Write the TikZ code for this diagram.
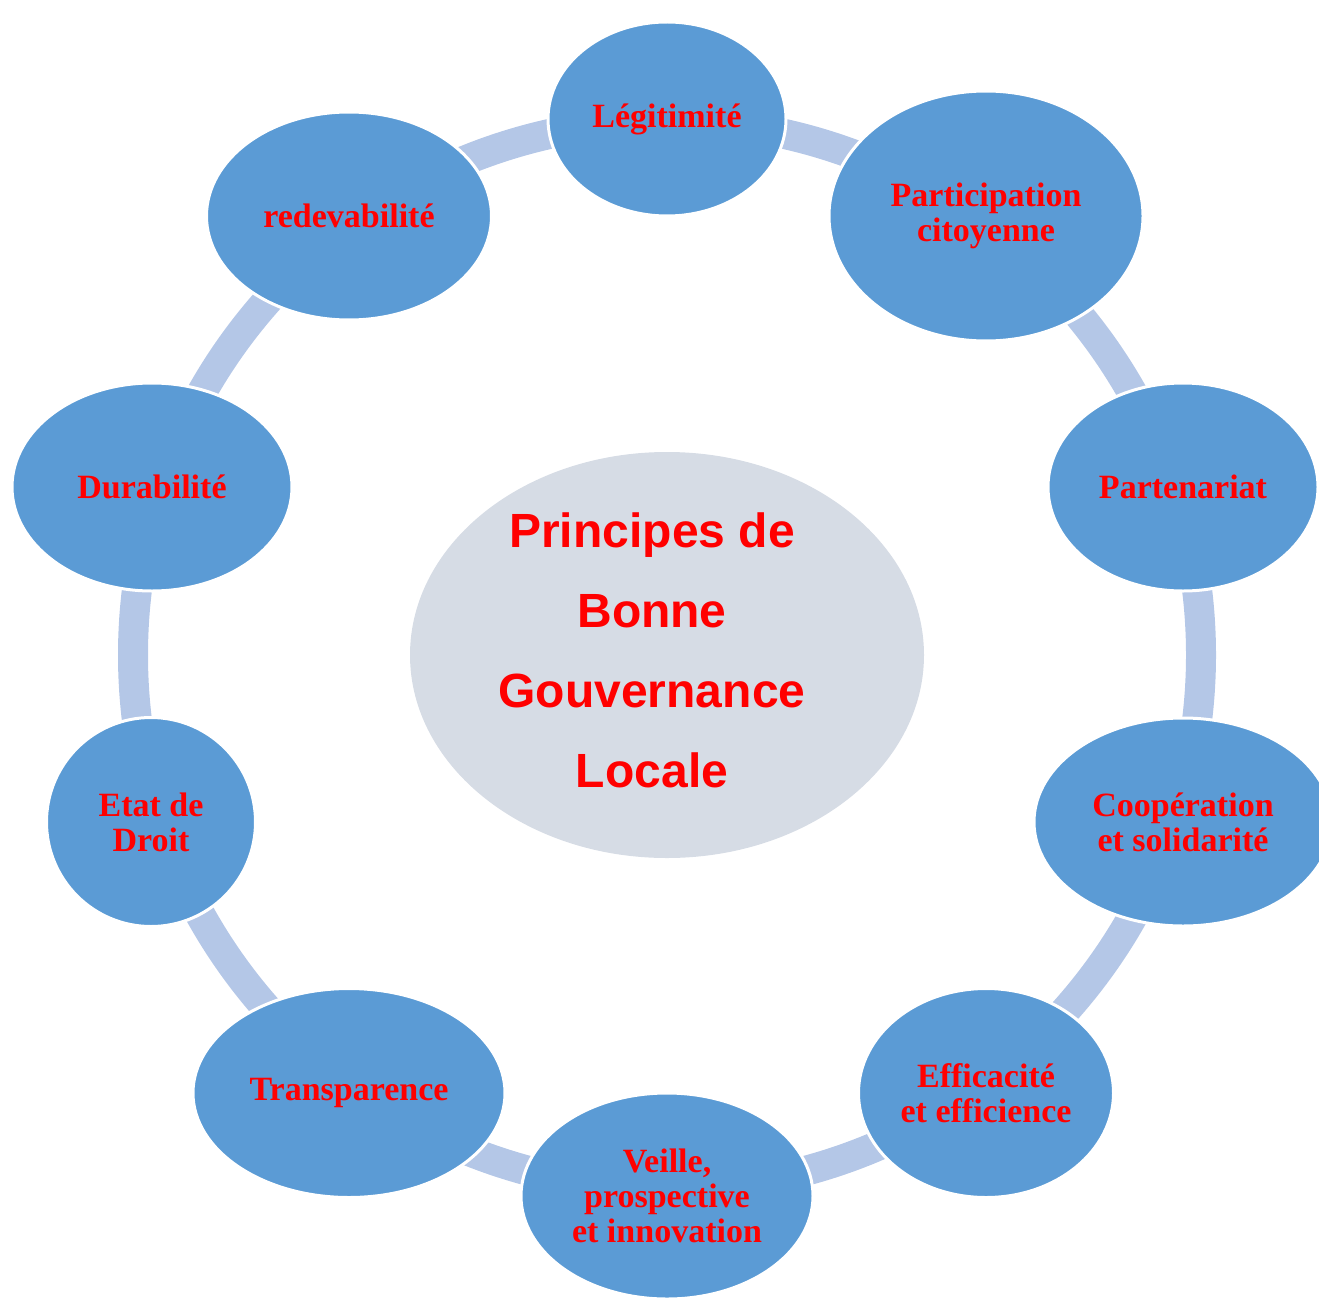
\documentclass[tikz,border=0pt]{standalone}
\usepackage{fontspec}
\newfontfamily\bubfont{Liberation Serif}
\newfontfamily\corefont{Liberation Sans}
\usetikzlibrary{shapes.geometric,backgrounds}
\definecolor{bubfill}{HTML}{5B9BD5}
\definecolor{ringcol}{HTML}{B4C7E7}
\definecolor{corefill}{HTML}{D6DCE5}
\definecolor{txtred}{HTML}{FF0000}
\tikzset{
  bub/.style={ellipse, fill=bubfill, draw=white, line width=3pt, inner sep=0pt,
    text=txtred, align=center, font=\bubfont\bfseries\fontsize{34}{35}\selectfont},
  ringline/.style={draw=ringcol, line width=30pt},
  corebox/.style={ellipse, fill=corefill, inner sep=0pt},
  coretext/.style={text=txtred, align=center, inner sep=0pt,
    font=\corefont\bfseries\fontsize{48}{80}\selectfont},
}
\begin{document}
\begin{tikzpicture}[x=1pt,y=-1pt]
\useasboundingbox (0,0) rectangle (1319,1300);
\clip (0,0) rectangle (1319,1300);
\node[corebox, minimum width=514pt, minimum height=406pt] (core) at (667,655) {};
\node[coretext] (title) at (652,650) {Principes de\\Bonne\\Gouvernance\\Locale};

\node[bub, minimum width=238pt, minimum height=194pt] (legit) at (667,119) {Légitimité};
\node[bub, minimum width=314pt, minimum height=250pt] (partic) at (986,216) {Participation\\citoyenne};
\node[bub, minimum width=270pt, minimum height=208pt] (parten) at (1183,487) {Partenariat};
\node[bub, minimum width=298pt, minimum height=208pt] (coop) at (1183,822) {Coopération\\et solidarité};
\node[bub, minimum width=255pt, minimum height=209pt] (effic) at (986,1093) {Efficacité\\et efficience};
\node[bub, minimum width=292pt, minimum height=206pt] (veille) at (667,1196) {Veille,\\prospective\\et innovation};
\node[bub, minimum width=312pt, minimum height=209pt] (transp) at (349,1093) {Transparence};
\node[bub, minimum width=209pt, minimum height=209pt] (etat) at (151,822) {Etat de\\Droit};
\node[bub, minimum width=280pt, minimum height=208pt] (durab) at (152,487) {Durabilité};
\node[bub, minimum width=285pt, minimum height=208pt] (redev) at (349,216) {redevabilité};

\begin{pgfonlayer}{background}
\draw[ringline] (core.center) circle[radius=534pt];
\end{pgfonlayer}
\end{tikzpicture}
\end{document}
